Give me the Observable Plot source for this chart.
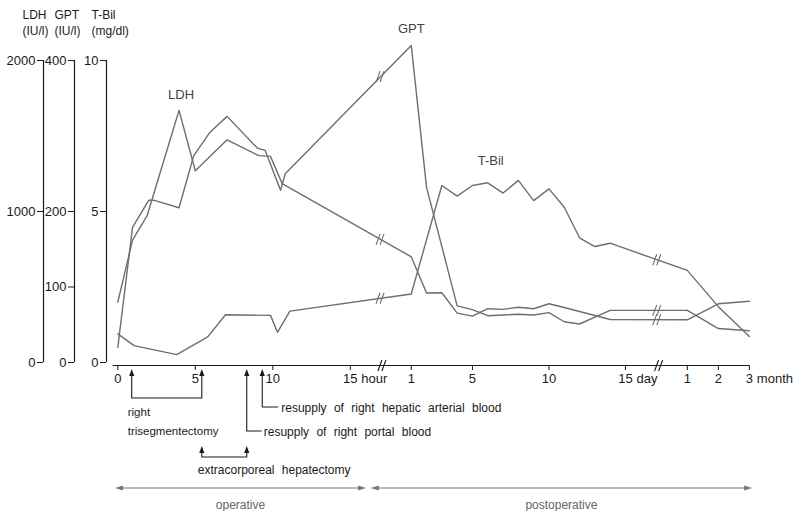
<!DOCTYPE html>
<html><head><meta charset="utf-8">
<script src="https://cdn.jsdelivr.net/npm/d3@7"></script>
<script src="https://cdn.jsdelivr.net/npm/@observablehq/plot@0.6"></script>
<style>html,body{margin:0;padding:0;background:#fff}#chart svg{display:block}</style>
</head><body><div id="chart"></div>
<script>
// ---- data: [unit, time, value]; unit h = hour (operative), d = postoperative day, m = month
const ldh = [["h",0,400],["h",0.95,810],["h",1.9,975],["h",3.95,1670],["h",5,1270],["h",7.05,1475],["h",9.1,1370],["h",9.85,1365],["h",10.6,1185],
  ["d",1,700],["d",2,460],["d",3,462],["d",4,327],["d",5,307],["d",6,356],["d",7,352],["d",8,366],["d",9,356],["d",10,389],["d",11,364],["d",12,338],["d",13,311],["d",14,285],
  ["m",1,283],["m",2,389],["m",3,406]];
const gpt = [["h",0,20],["h",0.95,179],["h",2,215],["h",2.3,215],["h",3.95,205],["h",4.9,274],["h",5.95,305],["h",7.05,326],["h",9,284],["h",9.5,281],["h",10.5,228],["h",10.8,250],
  ["d",1,420],["d",2,232],["d",4,75],["d",5,70],["d",6,62],["d",7,63],["d",8,64],["d",9,63],["d",10,66],["d",11,54],["d",12,51],["d",13,60],["d",14,69],
  ["m",1,69],["m",2,45],["m",3,42]];
const tbil = [["h",0,0.95],["h",1.05,0.56],["h",3.8,0.26],["h",5.8,0.85],["h",6.95,1.58],["h",9.85,1.56],["h",10.3,1.0],["h",11.1,1.70],
  ["d",1,2.27],["d",3,5.86],["d",4,5.51],["d",5,5.86],["d",6,5.95],["d",7,5.61],["d",8,6.03],["d",9,5.36],["d",10,5.75],["d",11,5.14],["d",12,4.13],["d",13,3.84],["d",14,3.95],
  ["m",1,3.05],["m",2,1.85],["m",3,0.86]];
const seriesNames = ["LDH","GPT","T-Bil"];
const seriesMax = [2000, 400, 10];
const seriesUnits = ["(IU/l)","(IU/l)","(mg/dl)"];
const ldhTicks = [0,1000,2000];
const gptTicks = [0,100,200,400];
const tbilTicks = [0,5,10];
const hourTicks = [0,5,10,15];
const dayTicks = [1,5,10,15];
const monthTicks = [1,2,3];
const axisBreaks = [16.95, 34.8];          // positions of the // on the broken time axis
const procedures = [{name:"right trisegmentectomy", from:0.93, to:5.45},{name:"extracorporeal hepatectomy", from:5.45, to:8.35}];
const resupply = [{name:"resupply of right portal blood", t:8.35},{name:"resupply of right hepatic arterial blood", t:9.35}];
const phases = [{name:"operative", from:-0.15, to:16.05},{name:"postoperative", from:16.35, to:40.95}];

// broken time axis: hours, then days, then months
const pos = (u, v) => u === "h" ? v : u === "d" ? 18.93 + (v - 1) * 0.987 : 34.74 + 2 * v;

const rows = [ldh, gpt, tbil].map((arr, k) => arr.map(([u, v, val]) => ({series: seriesNames[k], t: pos(u, v), y: val / seriesMax[k]})));
const all = rows.flat();
function at(r, t) {
  for (let i = 0; i < r.length - 1; i++) if (r[i].t <= t && r[i+1].t >= t) {
    const f = (t - r[i].t) / (r[i+1].t - r[i].t); return r[i].y + f * (r[i+1].y - r[i].y);
  }
}
const breakRows = rows.flatMap(r => axisBreaks.map(t => ({t, y: at(r, t)})));
const peakOf = r => r.reduce((a, b) => b.y > a.y ? b : a);

const xTickMap = new Map();
hourTicks.forEach(v => xTickMap.set(pos("h", v), String(v)));
dayTicks.forEach(v => xTickMap.set(pos("d", v), String(v)));
monthTicks.forEach(v => xTickMap.set(pos("m", v), String(v)));

const FONT = "'Liberation Sans', Arial, Helvetica, sans-serif";
const INK = "#1a1a1a", LINE = "#6e6e6e";

// a "//" break symbol
const breakSymbol = {draw(ctx) { ctx.moveTo(-4.5, 5.5); ctx.lineTo(-0.5, -5.5); ctx.moveTo(-0.5, 5.5); ctx.lineTo(3.5, -5.5); }};

const yAxis = (ticks, max, dx) => [
  Plot.ruleX([0], {y1: 0, y2: 1, dx: dx - 11.3, stroke: INK, strokeWidth: 1.2}),
  Plot.axisY(ticks.map(v => v / max), {anchor: "left", label: null, dx, tickSize: 6, tickPadding: 2, stroke: INK, fill: INK, fontSize: 13, tickFormat: d => String(Math.round(d * max))})
];
const header = (k, dx) => Plot.text([seriesNames[k] + "\n" + seriesUnits[k]], {frameAnchor: "top-left", text: d => d,
  dx, dy: -53, lineAnchor: "top", lineHeight: 1.35, fontSize: 12, fill: INK});

const plot = Plot.plot({
  width: 797, height: 511,
  marginLeft: 106, marginTop: 60, marginBottom: 149, marginRight: 40,
  x: {domain: [0, 40.75], range: [117.3, 749], axis: null},
  y: {domain: [0, 1], range: [362, 60], axis: null},
  style: {fontFamily: FONT, fontSize: "13px", color: INK, background: "#fff", overflow: "visible"},
  marks: [
    ...yAxis(ldhTicks, seriesMax[0], -63),
    ...yAxis(gptTicks, seriesMax[1], -32),
    ...yAxis(tbilTicks, seriesMax[2], 0),
    header(0, -84), header(1, -52), header(2, -15),
    // x axis
    Plot.ruleY([0], {x1: -0.3, x2: 40.75, dy: 3, stroke: INK, strokeWidth: 1.2}),
    Plot.axisX([...xTickMap.keys()], {anchor: "bottom", label: null, dy: 3, tickSize: 5, tickPadding: 3, stroke: INK, fill: INK, fontSize: 13, tickFormat: d => xTickMap.get(d)}),
    Plot.text([{t: pos("h", 15), u: "hour"}, {t: pos("d", 15), u: "day"}], {x: "t", text: "u", frameAnchor: "bottom", textAnchor: "start", lineAnchor: "top", dx: 11, dy: 11, fontSize: 13, fill: INK}),
    Plot.text([{t: pos("m", 3), u: "month"}], {x: "t", text: "u", frameAnchor: "bottom", textAnchor: "start", lineAnchor: "top", dx: 7.5, dy: 11, fontSize: 13, fill: INK}),
    Plot.dot(axisBreaks, {x: d => d + 0.12, y: () => 0, dy: 3, symbol: breakSymbol, stroke: INK, strokeWidth: 1.1, fill: "none"}),
    // series
    Plot.line(all, {x: "t", y: "y", z: "series", stroke: LINE, strokeWidth: 1.4}),
    Plot.dot(breakRows, {x: "t", y: "y", symbol: breakSymbol, stroke: LINE, strokeWidth: 1.1, fill: "none"}),
    Plot.text([peakOf(rows[0])], {x: "t", y: "y", text: "series", dy: -16, dx: 2, fontSize: 13, fill: "#444"}),
    Plot.text([peakOf(rows[1])], {x: "t", y: "y", text: "series", dy: -17, fontSize: 13, fill: "#444"}),
    Plot.text([rows[2][12]], {x: "t", y: "y", text: "series", dy: -22, dx: 3, fontSize: 13, fill: "#444"})
  ]
});
document.getElementById("chart").appendChild(plot);

// ---- annotations below the time axis, positioned with the chart's x scale
const sx = plot.scale("x");
const X = t => sx.apply(t);
const svg = d3.select(plot);
const g = svg.append("g").attr("font-family", FONT);
const stroke = (d, c = INK) => g.append("path").attr("d", d).attr("fill", "none").attr("stroke", c).attr("stroke-width", 1.1);
const tri = (d, c = INK) => g.append("path").attr("d", d).attr("fill", c);
const up = (x, y) => tri(`M${x},${y} l-2.6,7 h5.2 z`);
const txt = (x, y, s, size = 12, c = INK, anchor = "start", ws = 0) => g.append("text").attr("x", x).attr("y", y).attr("font-size", size)
  .attr("fill", c).attr("text-anchor", anchor).attr("word-spacing", ws).text(s);

// right trisegmentectomy bracket
{ const p = procedures[0], a = X(p.from), b = X(p.to);
  stroke(`M${a},375 V398 H${b} V375`); up(a, 369); up(b, 369);
  const [w1, w2] = p.name.split(" ");
  txt(a - 4, 416, w1, 11.5); txt(a - 4, 435, w2, 11.5); }
// extracorporeal hepatectomy bracket
{ const p = procedures[1], a = X(p.from), b = X(p.to);
  stroke(`M${a},452 V457 H${b} V452`); up(a, 446); up(b, 446);
  txt(a - 4, 474, p.name, 12, INK, "start", 4); }
// resupply arrows
{ const [r1, r2] = resupply;
  const a = X(r1.t); stroke(`M${a},375 V431 H${a + 15}`); up(a, 369); txt(a + 17, 436, r1.name, 12, INK, "start", 4);
  const b = X(r2.t); stroke(`M${b},375 V407 H${b + 16}`); up(b, 369); txt(b + 19, 412, r2.name, 12, INK, "start", 4); }
// operative / postoperative
phases.forEach(p => {
  const a = X(p.from), b = X(p.to), c = "#777";
  stroke(`M${a + 4},488 H${b - 4}`, c);
  tri(`M${a},488 l8,-2.5 v5 z`, c); tri(`M${b},488 l-8,-2.5 v5 z`, c);
  txt((a + b) / 2, 509, p.name, 12, "#666", "middle");
});
</script></body></html>
